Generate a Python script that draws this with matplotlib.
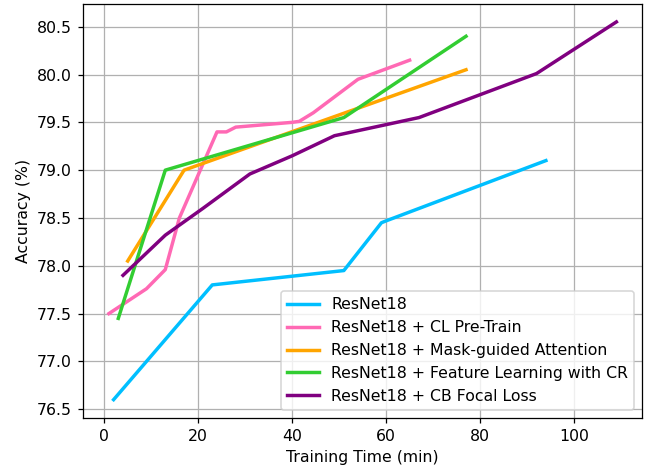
import matplotlib
matplotlib.use("Agg")
import matplotlib.pyplot as plt

# 训练时间 vs 准确率
base_x = [2, 23, 51, 59, 60, 94]
base_y = [76.6, 77.8, 77.95, 78.45, 78.47, 79.1]

cl_x = [1, 9, 13, 16, 24, 26, 28, 40, 41.5, 44.5, 54, 65]
cl_y = [77.5, 77.76, 77.96, 78.5, 79.4, 79.4, 79.45, 79.5, 79.51, 79.6, 79.95, 80.15]

mask_x = [5, 17, 77]
mask_y = [78.05, 79.0, 80.05]

feat_x = [3, 13, 51, 77]
feat_y = [77.45, 79.0, 79.55, 80.4]

focal_x = [4, 13, 21, 31, 40, 49, 67, 92, 109]
focal_y = [77.9, 78.32, 78.6, 78.96, 79.15, 79.36, 79.55, 80.01, 80.55]

dpi = 113
fig = plt.figure(figsize=(654 / dpi, 470 / dpi), dpi=dpi)
ax = fig.add_axes([0.127, 0.111, 0.855, 0.881])

lw = 2.2
ax.plot(base_x, base_y, color="deepskyblue", lw=lw, label="ResNet18")
ax.plot(cl_x, cl_y, color="hotpink", lw=lw, label="ResNet18 + CL Pre-Train")
ax.plot(mask_x, mask_y, color="orange", lw=lw, label="ResNet18 + Mask-guided Attention")
ax.plot(feat_x, feat_y, color="limegreen", lw=lw, label="ResNet18 + Feature Learning with CR")
ax.plot(focal_x, focal_y, color="purple", lw=lw, label="ResNet18 + CB Focal Loss")

ax.set_xlim(-4.5, 114.5)
ax.set_ylim(76.41, 80.74)
ax.set_xlabel("Training Time (min)")
ax.set_ylabel("Accuracy (%)")
ax.grid(True)
ax.legend(loc="lower right")

fig.savefig("out.png", dpi=dpi)
